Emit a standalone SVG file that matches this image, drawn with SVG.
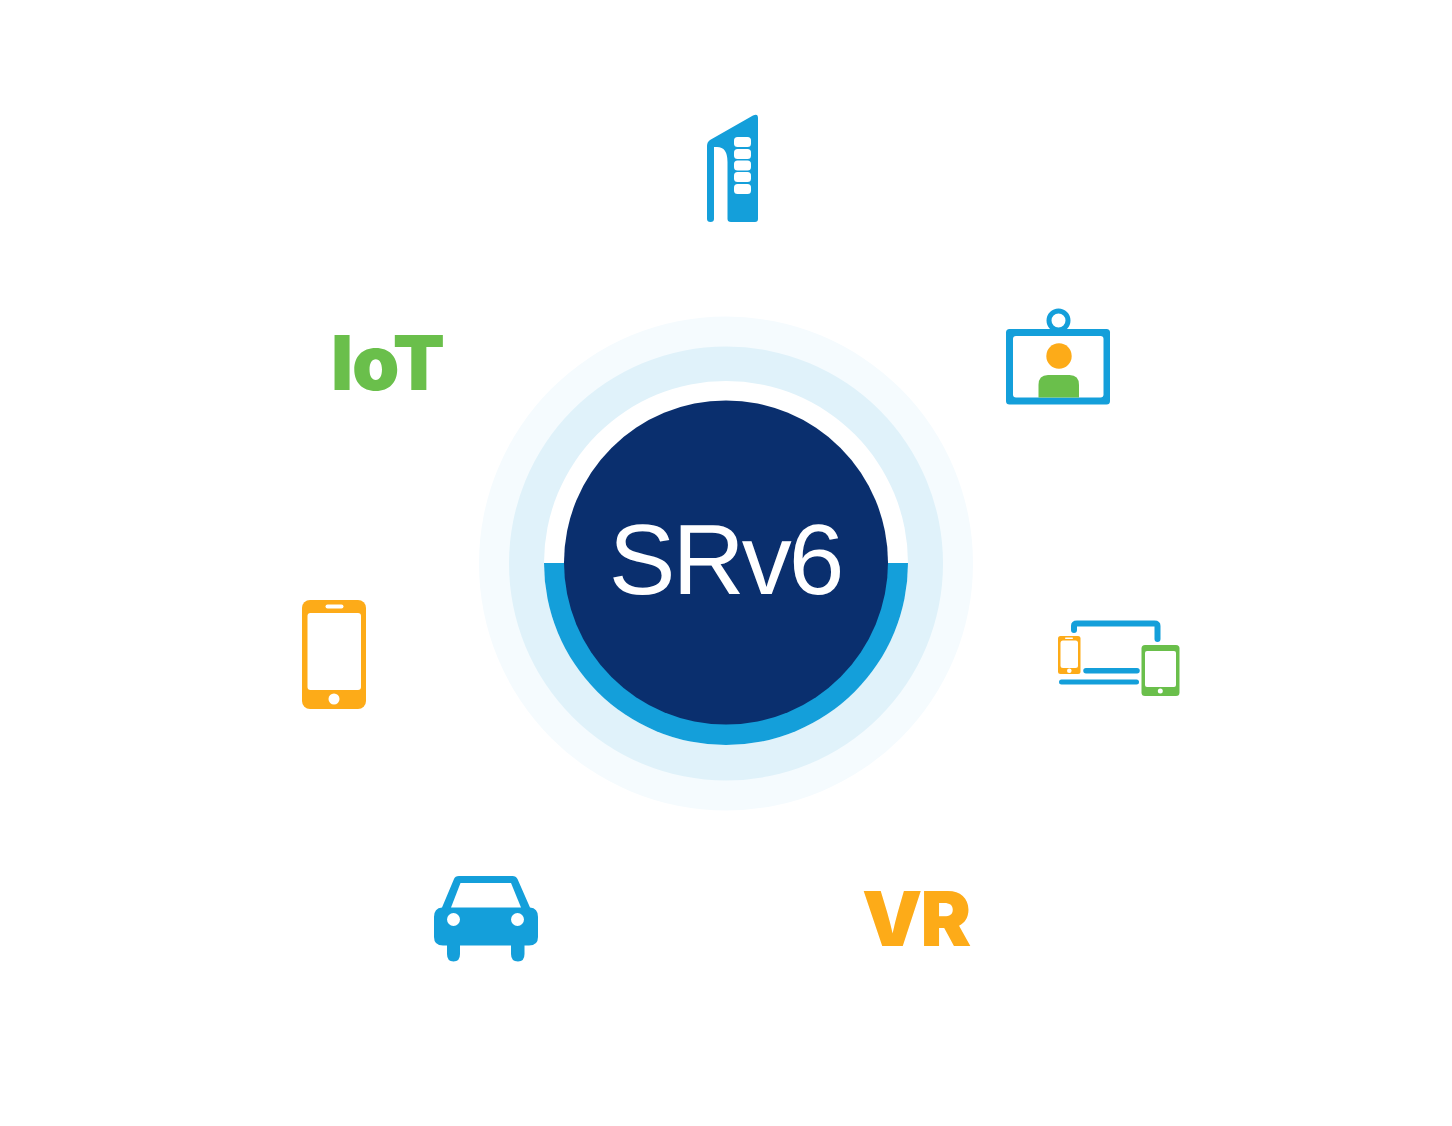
<svg xmlns="http://www.w3.org/2000/svg" width="1452" height="1126" viewBox="0 0 1452 1126">
<style>
.blue{fill:#149fda}.orange{fill:#fdab18}.green{fill:#6abf4b}.white{fill:#fff}
.line{fill:none;stroke:#149fda;stroke-linecap:round;stroke-linejoin:round}
.heavy{font-family:"Inter","Liberation Sans",Arial,sans-serif;font-weight:900;font-size:76px}
</style>
<rect width="1452" height="1126" fill="#fff"/>
<g id="hub">
<circle cx="726" cy="563.5" r="247" fill="#f5fbfe"/>
<circle cx="726" cy="563.5" r="217" fill="#e0f2fa"/>
<circle cx="726" cy="563" r="182" fill="#fff"/>
<path class="blue" d="M544 563H908A182 182 0 0 1 544 563Z"/>
<circle cx="726" cy="562.5" r="162" fill="#0a2f6e"/>
<text x="725" y="593.500" text-anchor="middle" font-family="Liberation Sans,Arial,sans-serif" font-size="100" letter-spacing="-3" text-rendering="geometricPrecision" fill="#fff">SRv6</text>
</g>
<g id="building">
<path class="blue" d="M707 146Q707 142 710 140L753 115.500Q758 113 758 118V219Q758 222 755 222H731Q727.500 222 727.500 219V162Q727.500 147 717 147H714V219Q714 222 710.500 222Q707 222 707 219Z"/>
<g class="white"><rect x="734" y="137" width="17" height="10" rx="3.500"/><rect x="734" y="149" width="17" height="10" rx="3.500"/><rect x="734" y="160.500" width="17" height="10" rx="3.500"/><rect x="734" y="172" width="17" height="10" rx="3.500"/><rect x="734" y="184" width="17" height="10" rx="3.500"/></g>
</g>
<g id="video">
<circle cx="1058.500" cy="320.500" r="9.500" fill="#fff" stroke="#149fda" stroke-width="5"/>
<rect x="1006" y="329" width="104" height="75.500" rx="3.500" class="blue"/>
<rect x="1013" y="336" width="90.500" height="61.500" rx="3" class="white"/>
<circle cx="1059" cy="356" r="12.700" class="orange"/>
<path class="green" d="M1038.500 397.500V385Q1038.500 375 1048 375H1069.500Q1079 375 1079 385V397.500Z"/>
</g>
<g id="devices">
<path class="line" stroke-width="6" d="M1074 630V626Q1074 623.500 1077 623.500H1154.500Q1157.500 623.500 1157.500 626V639"/>
<rect x="1058" y="636" width="22.500" height="38" rx="2.500" class="orange"/>
<rect x="1060.500" y="640.500" width="17.500" height="27.500" rx="2.500" class="white"/>
<rect x="1065" y="637.500" width="8" height="1.500" rx="0.700" class="white"/>
<circle cx="1069.300" cy="670.700" r="2.300" class="white"/>
<path class="line" stroke-width="5.500" d="M1086 670.700H1137"/>
<path class="line" stroke-width="5" d="M1061.500 682H1136.500"/>
<rect x="1141.500" y="645" width="38" height="51" rx="3.500" class="green"/>
<rect x="1145" y="651" width="31" height="36" rx="2" class="white"/>
<circle cx="1160.300" cy="691" r="2.500" class="white"/>
</g>
<g id="vr"><text x="862" y="946" class="heavy orange" letter-spacing="-2">VR</text></g>
<g id="car">
<path class="blue" d="M434 917Q434 908 442 907.500L454 879Q455 876 459 876H512.500Q516 876 517.500 879L530 907.500Q538 908 538 917V937Q538 945.500 529 945.500H524.500V954Q524.500 961.500 518 961.500Q511 961.500 511 954V945.500H460V954Q460 961.500 453.500 961.500Q447 961.500 447 954V945.500H443Q434 945.500 434 937Z"/>
<path class="white" d="M451 907.500L460.500 883H511L521 907.500Z"/>
<circle cx="453.500" cy="919.500" r="6.500" class="white"/><circle cx="517.500" cy="919.500" r="6.500" class="white"/>
</g>
<g id="phone">
<rect x="302" y="600" width="64" height="109" rx="8" class="orange"/>
<rect x="307.500" y="613" width="53.500" height="77" rx="3" class="white"/>
<rect x="325.500" y="604.500" width="18" height="4" rx="2" class="white"/>
<circle cx="334" cy="699" r="5.500" class="white"/>
</g>
<g id="iot"><text x="331" y="390" class="heavy green" letter-spacing="-1">IoT</text></g>
</svg>
